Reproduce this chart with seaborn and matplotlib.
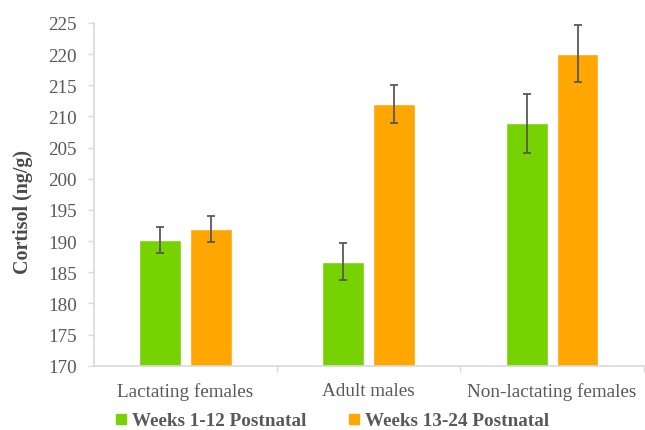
import numpy as np
import pandas as pd
import matplotlib
matplotlib.use("Agg")
import matplotlib.pyplot as plt
import seaborn as sns
from matplotlib.lines import Line2D

groups = ["Lactating females", "Adult males", "Non-lactating females"]
periods = ["Weeks 1-12 Postnatal", "Weeks 13-24 Postnatal"]
early_mean = [190.2, 186.7, 208.9]
late_mean = [192.0, 212.0, 220.1]
early_err = [2.1, 3.0, 4.7]
late_err = [2.1, 3.1, 4.6]
colors = ["#76d200", "#ffa600"]
yticks = [170, 175, 180, 185, 190, 195, 200, 205, 210, 215, 220, 225]

df = pd.DataFrame({
    "group": groups * 2,
    "period": [periods[0]] * 3 + [periods[1]] * 3,
    "cortisol": early_mean + late_mean,
})
errs = {periods[0]: early_err, periods[1]: late_err}

sns.set_style("white")
plt.rcParams["font.family"] = ["Liberation Serif", "DejaVu Serif"]

grey = "#595959"
light = "#d9d9d9"

fig = plt.figure(figsize=(6.45, 4.31), dpi=100)
ax = fig.add_axes([94 / 645, 1 - 366.7 / 431, 1 - 94 / 645 - 0.002, (366.7 - 24) / 431])

sns.barplot(data=df, x="group", y="cortisol", hue="period", order=groups,
            hue_order=periods, palette=colors, width=0.556, gap=0.18,
            errorbar=None, saturation=1, legend=False, ax=ax)

# error bars placed on the bar centres seaborn computed
for cont, per in zip(ax.containers, periods):
    xs = [p.get_x() + p.get_width() / 2 for p in cont.patches]
    hs = [p.get_height() for p in cont.patches]
    ax.errorbar(xs, hs, yerr=errs[per], fmt="none", ecolor=grey,
                elinewidth=1.3, capsize=2.6, capthick=1.3, zorder=5)

ax.set_ylim(170, 225)
ax.set_xlim(-0.5, 2.5)
ax.set_yticks(yticks)
ax.set_xlabel("")
ax.set_ylabel("Cortisol (ng/g)", fontsize=14.4, fontweight="bold", color="#4a4a4a")
ax.yaxis.set_label_coords(-0.111, 0.45)

for s in ["top", "right"]:
    ax.spines[s].set_visible(False)
for s in ["left", "bottom"]:
    ax.spines[s].set_color(light)
    ax.spines[s].set_linewidth(1.2)

ax.tick_params(axis="y", which="major", length=4.3, width=1, color=light,
               labelsize=13.8, labelcolor=grey, pad=8, left=True)
ax.tick_params(axis="x", which="major", length=0, labelsize=13.8,
               labelcolor=grey, pad=11.5)
ax.set_xticks([0.5, 1.5, 2.5], minor=True)
ax.tick_params(axis="x", which="minor", length=4.3, width=1, color=light, bottom=True)

handles = [Line2D([0], [0], marker="s", linestyle="none", markersize=6.5,
                  markerfacecolor=c, markeredgecolor=c) for c in colors]
fig.legend(handles, periods, loc="center", bbox_to_anchor=(332 / 645, 1 - 421.5 / 431),
           ncol=2, frameon=False, handlelength=0.6, handletextpad=0.25,
           columnspacing=2.2, prop={"size": 13.8, "weight": "bold"},
           labelcolor=grey, borderpad=0)

fig.savefig("out.png", dpi=100)
